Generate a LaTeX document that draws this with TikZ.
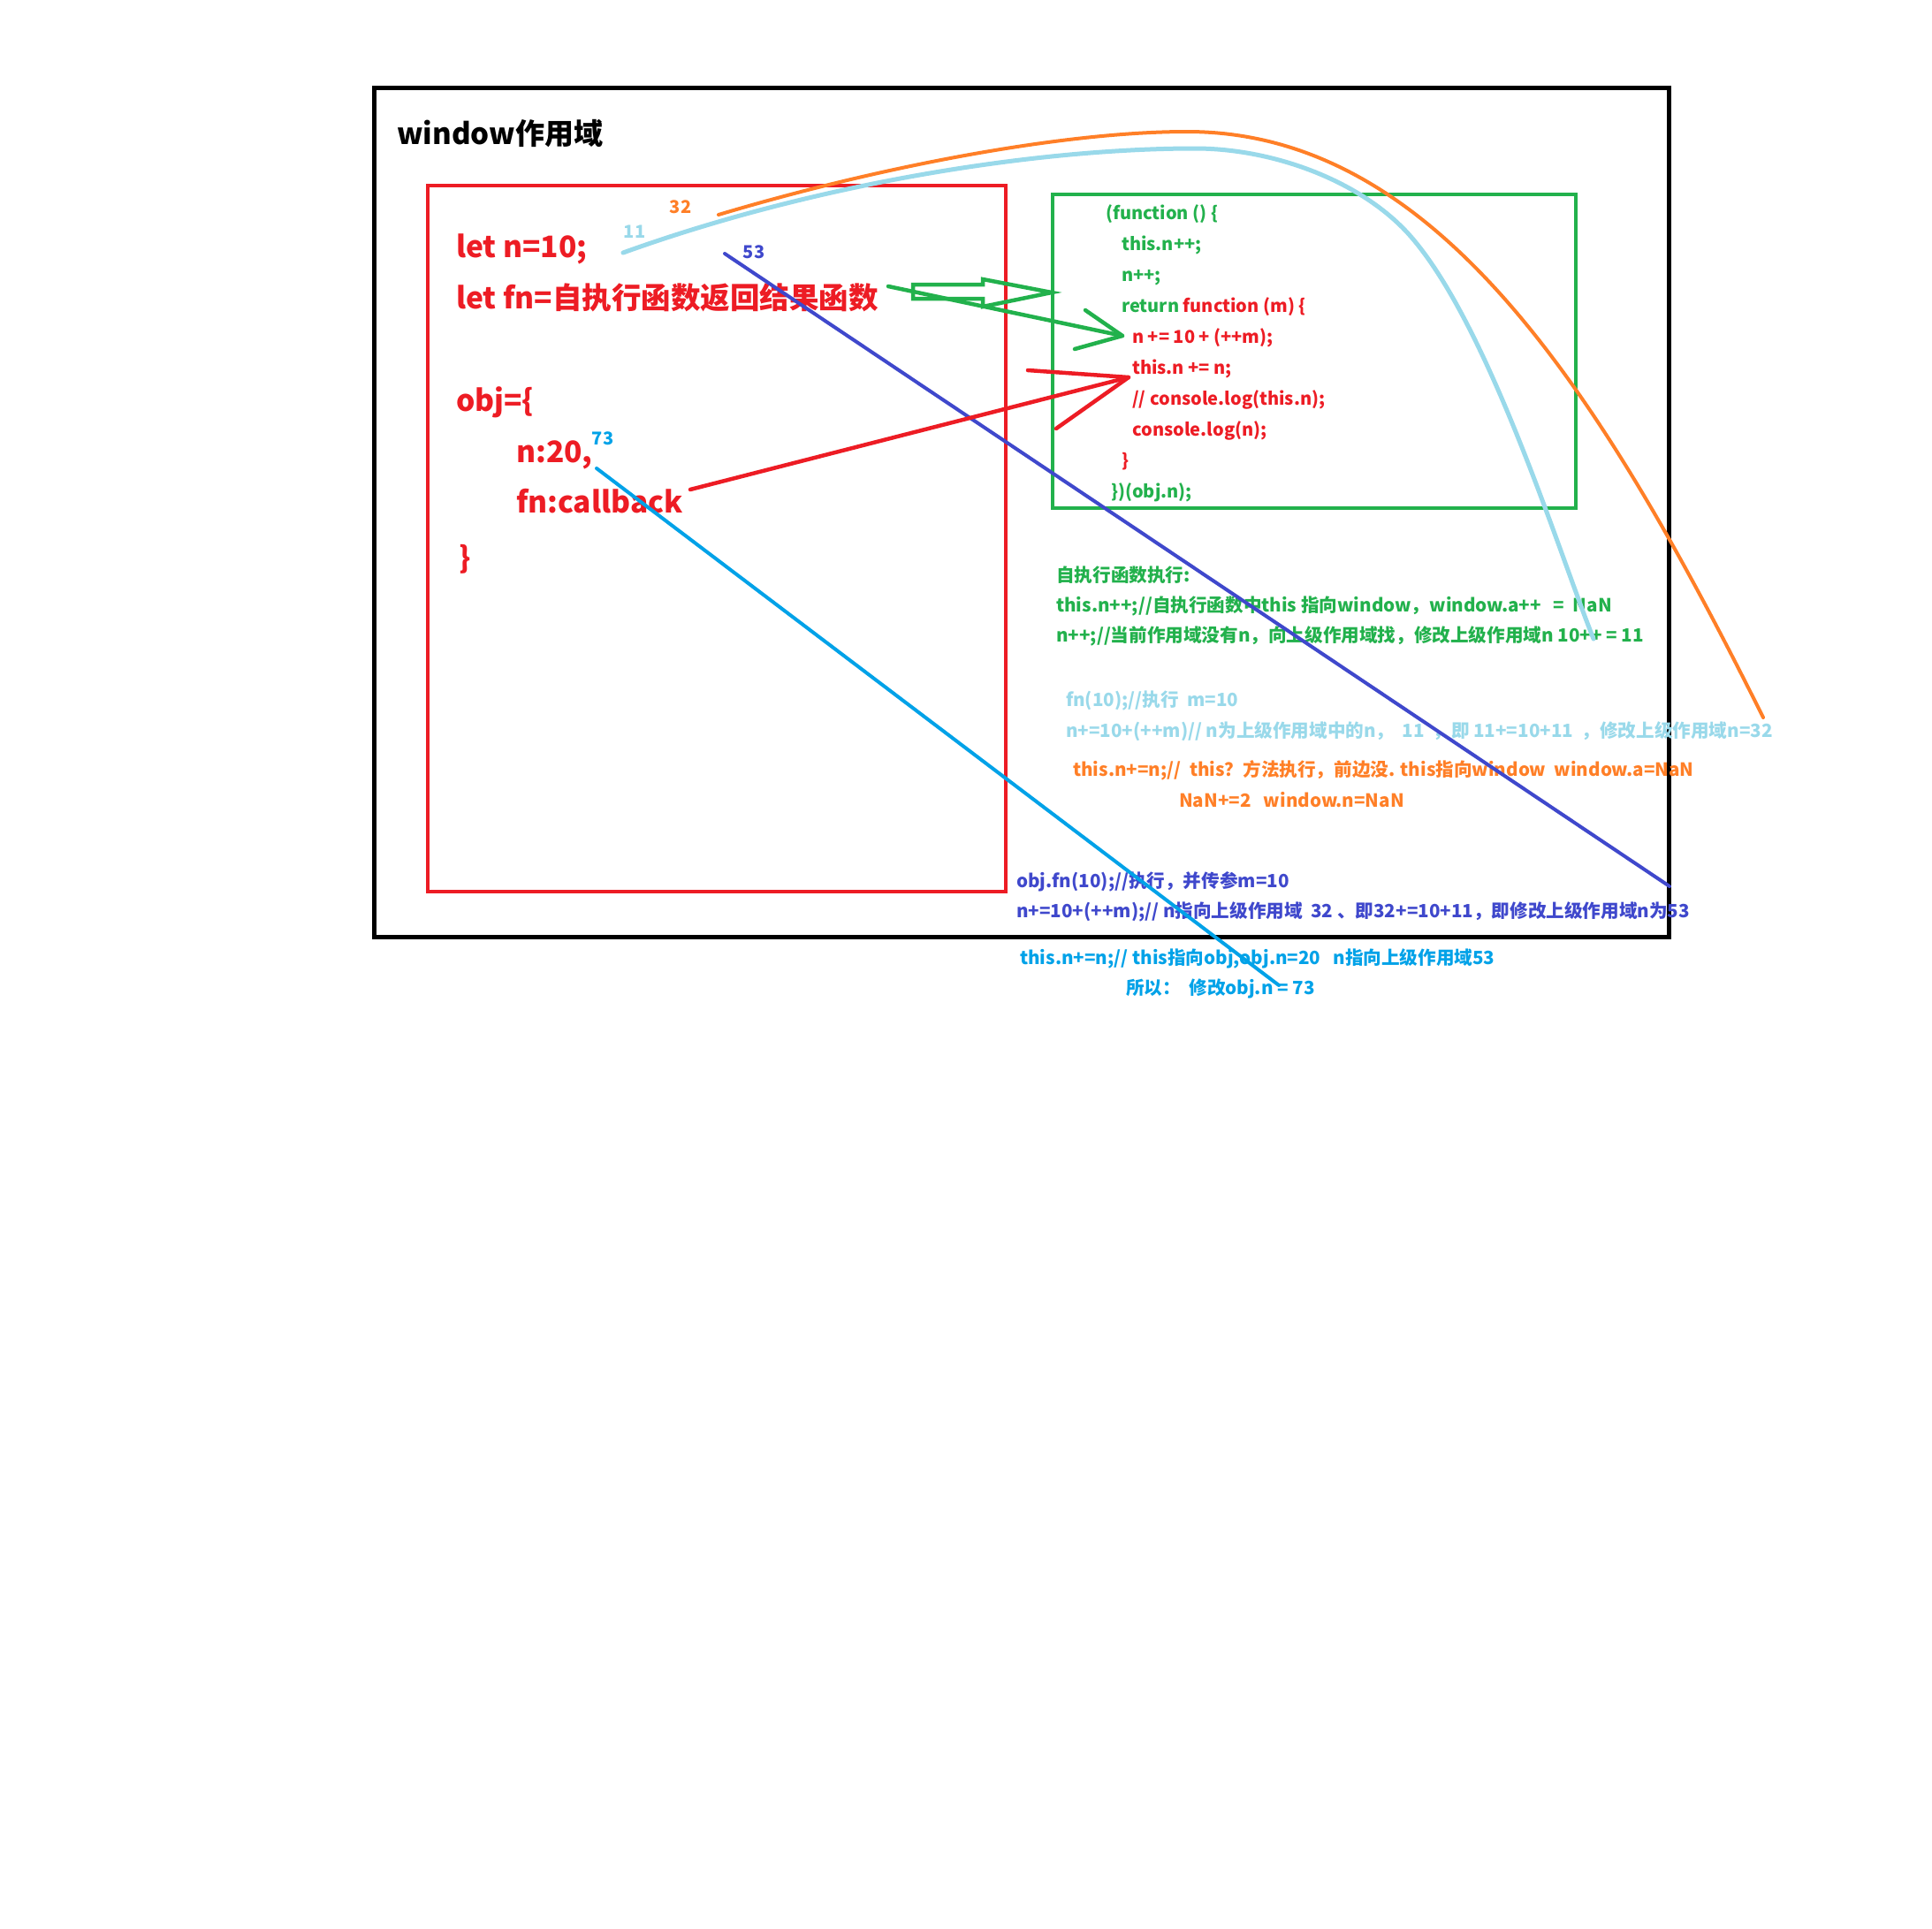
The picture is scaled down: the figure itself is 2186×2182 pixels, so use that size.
\documentclass[tikz,border=0pt]{standalone}
\usepackage{fontspec}
\setmainfont{Noto Sans CJK SC}
\definecolor{pred}{HTML}{ED1C24}
\definecolor{pgreen}{HTML}{22B14C}
\definecolor{porange}{HTML}{FF7F27}
\definecolor{plblue}{HTML}{99D9EA}
\definecolor{pindigo}{HTML}{3F48CC}
\definecolor{pcyan}{HTML}{00A2E8}
\begin{document}
\begin{tikzpicture}[x=1pt,y=-1pt,
  txt/.style={anchor=west, inner sep=0pt, text height=0.88em, text depth=0.12em},
  big/.style={txt, font=\bfseries\fontsize{33.5}{38}\selectfont, text=pred},
  code/.style={txt, font=\bfseries\fontsize{20}{24}\selectfont},
  note/.style={txt, font=\bfseries\fontsize{20.6}{24}\selectfont},
  tag/.style={anchor=center, inner sep=0pt, font=\bfseries\fontsize{20}{24}\selectfont},
  stroke/.style={line width=4.5pt, line cap=round, line join=round},
  frame/.style={line width=4.5pt}]

% canvas
\useasboundingbox[fill=white] (0,0) rectangle (2186,2182);

% scope frames
\draw[frame, line width=5pt, black] (423,99) rectangle (1888,1060);
\draw[frame, pred] (484,210) rectangle (1138,1009);
\draw[frame, pgreen] (1191,220) rectangle (1783,575);

% title
\node[txt, font=\bfseries\fontsize{33}{38}\selectfont] (title) at (449,160) {window作用域};

% global code
\node[big] (c1) at (516,288) {let n=10;};
\node[big] (c2) at (516,346) {let fn=自执行函数返回结果函数};
\node[big] (c3) at (516,462) {obj=\{};
\node[big] (c4) at (584,520) {n:20,};
\node[big] (c5) at (584,577) {fn:callback};
\node[big] (c6) at (519,640) {\}};

% value tags
\node[tag, text=porange] (t32) at (770,234) {32};
\node[tag, text=plblue] (t11) at (718,262) {11};
\node[tag, text=pindigo] (t53) at (853,285) {53};
\node[tag, text=pcyan] (t73) at (682,496) {73};

% self-executing function
\node[code, text=pgreen] (f1) at (1251,245) {(function () \{};
\node[code, text=pgreen] (f2) at (1269,280) {this.n++;};
\node[code, text=pgreen] (f3) at (1269,315) {n++;};
\node[code, text=pgreen] (f4) at (1269,350) {return \textcolor{pred}{function (m) \{}};
\node[code, text=pred] (f5) at (1281,385) {n += 10 + (++m);};
\node[code, text=pred] (f6) at (1281,420) {this.n += n;};
\node[code, text=pred] (f7) at (1281,455) {// console.log(this.n);};
\node[code, text=pred] (f8) at (1281,490) {console.log(n);};
\node[code, text=pred] (f9) at (1269,525) {\}};
\node[code, text=pgreen] (f10) at (1257,560) {\})(obj.n);};

% explanations
\node[note, text=pgreen] (g1) at (1195,655) {自执行函数执行:};
\node[note, text=pgreen] (g2) at (1195,689) {this.n++;//自执行函数中this 指向window，window.a++ \ \ = \ NaN};
\node[note, text=pgreen] (g3) at (1195,723) {n++;//当前作用域没有n，向上级作用域找，修改上级作用域n 10++ = 11};
\node[note, text=plblue] (b1) at (1206,796) {fn(10);//执行 \ m=10};
\node[note, text=plblue] (b2) at (1206,831) {n+=10+(++m)// n为上级作用域中的n， \ 11 \ ，即 11+=10+11 \ ，修改上级作用域n=32};
\node[note, text=porange] (o1) at (1214,875) {this.n+=n;// \ this？方法执行，前边没. this指向window \ window.a=NaN};
\node[note, text=porange] (o2) at (1334,910) {NaN+=2 \ \ window.n=NaN};
\node[note, text=pindigo] (i1) at (1150,1001) {obj.fn(10);//执行，并传参m=10};
\node[note, text=pindigo] (i2) at (1150,1035) {n+=10+(++m);// n指向上级作用域 \ 32 、即32+=10+11，即修改上级作用域n为53};
\node[note, text=pcyan] (s1) at (1154,1088) {this.n+=n;// this指向obj,obj.n=20 \ \ n指向上级作用域53};
\node[note, text=pcyan] (s2) at (1274,1122) {所以： \ 修改obj.n = 73};

% connector end points
\coordinate (oS) at (813,243);
\coordinate (oP) at (1343,149);
\coordinate (oE) at (1995,812);
\coordinate (lS) at (705,286);
\coordinate (lP) at (1352,168);
\coordinate (lM) at (1593,264);
\coordinate (lE) at (1803,723);
\coordinate (dS) at (820,287);
\coordinate (dE) at (1889,1003);
\coordinate (cS) at (675,530);
\coordinate (cE) at (1447,1115);
\coordinate (rS) at (781,554);
\coordinate (rT) at (1277,427);
\coordinate (rA) at (1163,419);
\coordinate (rB) at (1195,485);
\coordinate (gS) at (1005,324);
\coordinate (gT) at (1270,380);
\coordinate (gA) at (1228,351);
\coordinate (gB) at (1216,395);

% value flow curves
\draw[stroke, porange, line width=4pt] (oS) .. controls (990,190) and (1200,149) .. (oP)
  .. controls (1620,149) and (1805,430) .. (oE);
\draw[stroke, plblue, line width=5pt] (lS) .. controls (930,205) and (1180,168) .. (lP)
  .. controls (1440,168) and (1538,204) .. (lM)
  .. controls (1683,363) and (1763,623) .. (lE);
\draw[stroke, pindigo, line width=4pt] (dS) -- (dE);
\draw[stroke, pcyan, line width=4pt] (cS) -- (cE);

% callback arrow
\draw[stroke, pred] (rS) -- (rT);
\draw[stroke, pred] (rA) -- (rT) -- (rB);

% hollow arrow into the function
\draw[stroke, pgreen, line join=miter] (1033,322) -- (1112,322) -- (1112,316) -- (1190,331)
  -- (1112,347) -- (1112,338) -- (1033,338) -- cycle;

% arrow to the returned function
\draw[stroke, pgreen] (gS) -- (gT);
\draw[stroke, pgreen] (gA) -- (gT) -- (gB);

\end{tikzpicture}
\end{document}
